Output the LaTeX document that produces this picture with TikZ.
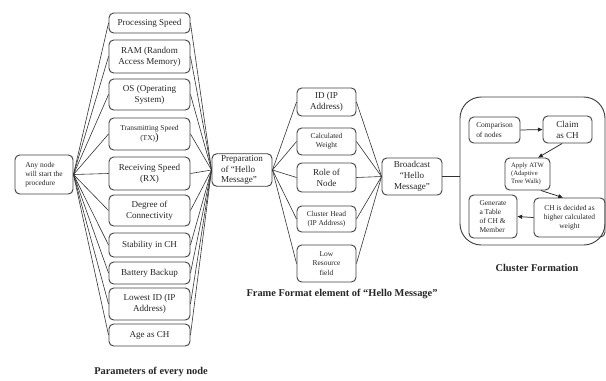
\documentclass[tikz,border=0pt]{standalone}
\usepackage{fontspec}
\setmainfont{Liberation Serif}
\usetikzlibrary{arrows.meta}
\tikzset{
  box/.style={draw=black!75, line width=0.7pt, rounded corners=3.5pt, align=center, inner sep=1pt,
    font=\fontsize{6.8}{8.2}\selectfont, text=black!85},
  smallbox/.style={box, font=\fontsize{5.6}{6.9}\selectfont},
  tinybox/.style={box, font=\fontsize{5.0}{6.2}\selectfont},
  conn/.style={draw=black!80, line width=0.45pt},
  arr/.style={draw=black!85, line width=0.55pt, -{Triangle[length=3.5pt,width=3pt]}},
  captext/.style={font=\fontsize{7.8}{9}\selectfont\bfseries, text=black!85},
}
\begin{document}
\begin{tikzpicture}[x=0.75pt,y=-0.75pt]
\useasboundingbox (0,0) rectangle (606,380);
% start node
\node[smallbox, align=left, minimum width=58*0.75pt, minimum height=39*0.75pt] (start) at (44,174.5) {Any node\\will start the\\procedure};
% parameter boxes
\tikzset{pw/.style={minimum width=81*0.75pt}}
\node[box,pw,minimum height=20*0.75pt] (p1) at (149.5,23) {Processing Speed};
\node[box,pw,minimum height=33*0.75pt] (p2) at (149.5,56.5) {RAM (Random\\Access Memory)};
\node[box,pw,minimum height=31*0.75pt] (p3) at (149.5,94.5) {OS (Operating\\System)};
\node[smallbox,pw,minimum height=32*0.75pt] (p4) at (149.5,134) {Transmitting Speed\\(TX){\fontsize{8}{8}\selectfont)}};
\node[box,pw,minimum height=33*0.75pt] (p5) at (149.5,173.5) {Receiving Speed\\(RX)};
\node[box,pw,minimum height=31*0.75pt] (p6) at (149.5,210.5) {Degree of\\Connectivity};
\node[box,pw,minimum height=24*0.75pt] (p7) at (149.5,245) {Stability in CH};
\node[box,pw,minimum height=22*0.75pt] (p8) at (149.5,273) {Battery Backup};
\node[box,pw,minimum height=32*0.75pt] (p9) at (149.5,304) {Lowest ID (IP\\Address)};
\node[box,pw,minimum height=22*0.75pt] (p10) at (149.5,335) {Age as CH};
\node[captext] (cap1) at (151,372) {Parameters of every node};
% preparation
\node[box, align=left, minimum width=60*0.75pt, minimum height=30*0.75pt] (prep) at (242,170) {Preparation\\of ``Hello\\Message''};
\foreach \i in {1,...,10} {
  \draw[conn] (start.east) -- (p\i.west);
  \draw[conn] (p\i.east) -- (prep.west);
}
% frame boxes
\tikzset{fw/.style={minimum width=59*0.75pt}}
\node[box,fw,minimum height=28*0.75pt] (f1) at (326.5,102) {ID (IP\\Address)};
\node[smallbox,fw,minimum height=27*0.75pt] (f2) at (326.5,141.5) {Calculated\\Weight};
\node[box,fw,minimum height=29*0.75pt] (f3) at (326.5,177.5) {Role of\\Node};
\node[smallbox,fw,minimum height=26*0.75pt] (f4) at (326.5,219) {Cluster Head\\(IP Address)};
\node[smallbox,fw,minimum height=37*0.75pt] (f5) at (326.5,263.5) {Low\\Resource\\field};
\node[captext] (cap2) at (342,294) {Frame Format element of ``Hello Message''};
% broadcast
\node[box, minimum width=60*0.75pt, minimum height=37*0.75pt] (bc) at (412,176.5) {Broadcast\\``Hello\\Message''};
\foreach \i in {1,...,5} {
  \draw[conn] (prep.east) -- (f\i.west);
  \draw[conn] (f\i.east) -- (bc.west);
}
% cluster container
\node[draw=black!75, line width=0.7pt, rounded corners=16pt, minimum width=145*0.75pt, minimum height=148*0.75pt, inner sep=0pt] (cl) at (532.5,171) {};
\draw[conn] (bc.east) -- (cl.west |- bc.east);
\node[smallbox, align=left, minimum width=51*0.75pt, minimum height=26*0.75pt] (c1) at (494.5,130) {Comparison\\of nodes};
\node[box, minimum width=49*0.75pt, minimum height=27*0.75pt] (c2) at (567.5,129.5) {Claim\\as CH};
\node[tinybox, align=left, minimum width=45*0.75pt, minimum height=32*0.75pt] (c3) at (527.5,174) {Apply ATW\\(Adaptive\\Tree Walk)};
\node[smallbox, align=left, minimum width=48*0.75pt, minimum height=43*0.75pt] (c4) at (493,216.5) {Generate\\a Table\\of CH \&\\Member};
\node[smallbox, minimum width=71*0.75pt, minimum height=39*0.75pt] (c5) at (569.5,217.5) {CH is decided as\\higher calculated\\weight};
\node[captext] (cap3) at (537,268) {Cluster Formation};
\draw[arr] (c1.east) -- (c2.west);
\draw[arr] ([xshift=-4pt]c2.south) -- ([xshift=8pt]c3.north);
\draw[arr] ([xshift=10pt]c3.south) -- ([xshift=-5pt]c5.north);
\draw[arr] (c5.west) -- (c4.east);
\end{tikzpicture}
\end{document}
